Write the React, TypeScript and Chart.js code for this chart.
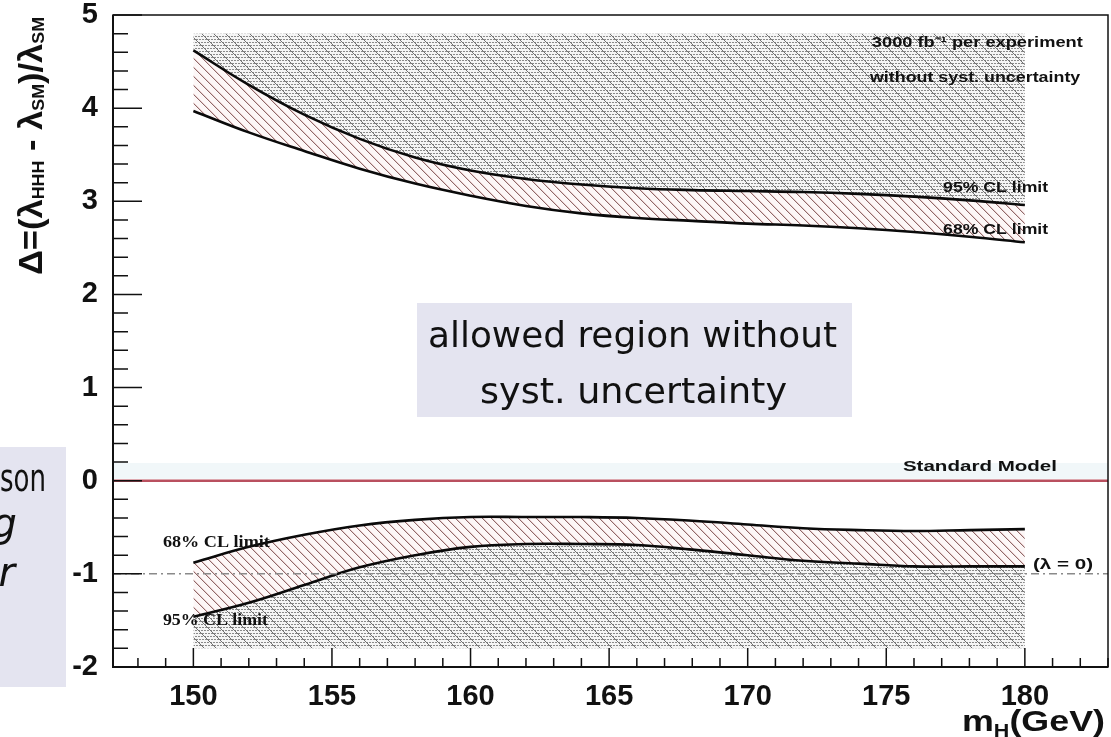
import React, { useEffect, useRef } from "react";
import { Chart, registerables } from "chart.js";

Chart.register(...registerables);

// Higgs boson mass points (GeV) where the coupling limits are evaluated
const MH = [150, 152, 154, 156, 158, 160, 162, 164, 166, 168, 170, 172, 174, 176, 178, 180];

// Upper limits on Δ = (λHHH - λSM)/λSM
const CL95_UP = [4.62, 4.25, 3.93, 3.67, 3.47, 3.33, 3.24, 3.18, 3.14, 3.12, 3.11, 3.1, 3.08, 3.05, 3.01, 2.96];
const CL68_UP = [3.97, 3.74, 3.54, 3.35, 3.19, 3.06, 2.95, 2.87, 2.82, 2.79, 2.76, 2.74, 2.71, 2.67, 2.62, 2.56];

// Lower limits on Δ
const CL68_LO = [-0.88, -0.71, -0.58, -0.48, -0.42, -0.39, -0.39, -0.39, -0.4, -0.43, -0.47, -0.51, -0.53, -0.54, -0.53, -0.52];
const CL95_LO = [-1.46, -1.31, -1.12, -0.93, -0.8, -0.71, -0.68, -0.68, -0.69, -0.74, -0.8, -0.86, -0.89, -0.92, -0.92, -0.92];

// Edges of the excluded (shaded) regions
const EXCLUDED_TOP = 4.8;
const EXCLUDED_BOTTOM = -1.8;

// Reference lines
const STANDARD_MODEL = 0;
const ZERO_COUPLING = -1;

// Axes
const X_RANGE = [147.1, 183];
const Y_RANGE = [-2, 5];
const X_TICKS = [150, 155, 160, 165, 170, 175, 180];
const Y_TICKS = [-2, -1, 0, 1, 2, 3, 4, 5];
const X_MINOR_STEP = 1;
const Y_MINOR_STEP = 0.2;

// In-plot labels, placed in data units (left edge, right edge, vertical centre)
const PLOT_NOTES = [
  { text: "3000 fb\u207B\u00B9 per experiment", from: 174.48, to: 182.09, at: 4.7, serif: false },
  { text: "without syst. uncertainty", from: 174.41, to: 182.0, at: 4.32, serif: false },
  { text: "95% CL limit", from: 177.05, to: 180.84, at: 3.14, serif: false },
  { text: "68% CL limit", from: 177.05, to: 180.84, at: 2.69, serif: false },
  { text: "Standard Model", from: 175.6, to: 181.16, at: 0.15, serif: false },
  { text: "(\u03BB = 0)", from: 180.29, to: 182.46, at: -0.9, serif: false },
  { text: "68% CL limit", from: 148.9, to: 152.76, at: -0.67, serif: true },
  { text: "95% CL limit", from: 148.9, to: 152.69, at: -1.5, serif: true },
];

const CALLOUT_LINES = ["allowed region without", "syst. uncertainty"];
const SIDE_FRAGMENTS = ["son", "g", "r"];

function greyPattern(): CanvasPattern | string {
  const n = 12;
  const c = document.createElement("canvas");
  c.width = n;
  c.height = n;
  const g = c.getContext("2d");
  if (!g) return "#c8c8c8";
  g.fillStyle = "#f5f5f5";
  g.fillRect(0, 0, n, n);
  g.fillStyle = "#8a8a8a";
  for (const row of [0, 3, 6, 9]) {
    for (let x = 0; x < n; x += 3) g.fillRect(x + (row % 2), row, 2, 1);
  }
  g.fillStyle = "#707070";
  for (let i = 0; i < n; i++) g.fillRect(i, i, 1, 1);
  return g.createPattern(c, "repeat") || "#c8c8c8";
}

function redHatch(): CanvasPattern | string {
  const n = 9;
  const c = document.createElement("canvas");
  c.width = n;
  c.height = n;
  const g = c.getContext("2d");
  if (!g) return "#f3dede";
  g.fillStyle = "#fdf7f7";
  g.fillRect(0, 0, n, n);
  for (let i = 0; i < n; i++) {
    g.fillStyle = "#8e6a6a";
    g.fillRect(i, i, 1, 1);
    g.fillStyle = "#e8cccc";
    g.fillRect((i + 1) % n, i, 1, 1);
  }
  return g.createPattern(c, "repeat") || "#f3dede";
}

function fitText(
  ctx: CanvasRenderingContext2D,
  text: string,
  x: number,
  y: number,
  width: number,
  font: string,
  baseline: CanvasTextBaseline = "middle",
  color = "#111"
) {
  ctx.save();
  ctx.font = font;
  ctx.textAlign = "left";
  ctx.textBaseline = baseline;
  const w = ctx.measureText(text).width || 1;
  ctx.translate(x, y);
  ctx.scale(width / w, 1);
  ctx.fillStyle = color;
  ctx.fillText(text, 0, 0);
  ctx.restore();
}

const decorPlugin = {
  id: "decor",
  beforeDatasetsDraw(chart: any) {
    const { ctx, chartArea } = chart;
    const ys = chart.scales.y;
    // pale band just above the Standard Model line
    ctx.save();
    ctx.fillStyle = "#f1f7f9";
    const y0 = ys.getPixelForValue(0.19);
    const y1 = ys.getPixelForValue(0.02);
    ctx.fillRect(chartArea.left, y0, chartArea.right - chartArea.left, y1 - y0);
    ctx.restore();
  },
  afterDatasetsDraw(chart: any) {
    const { ctx, chartArea } = chart;
    const { left, right, top, bottom } = chartArea;
    const xs = chart.scales.x;
    const ys = chart.scales.y;

    ctx.save();
    // λ = 0 reference line (dash-dot)
    const yz = ys.getPixelForValue(ZERO_COUPLING);
    ctx.strokeStyle = "#8a8a8a";
    ctx.lineWidth = 1.5;
    ctx.setLineDash([8, 4, 2, 4]);
    ctx.beginPath();
    ctx.moveTo(left, yz);
    ctx.lineTo(right, yz);
    ctx.stroke();
    ctx.setLineDash([]);

    // Standard Model line
    const ysm = ys.getPixelForValue(STANDARD_MODEL);
    ctx.strokeStyle = "#b9505f";
    ctx.lineWidth = 2.5;
    ctx.beginPath();
    ctx.moveTo(left, ysm);
    ctx.lineTo(right, ysm);
    ctx.stroke();

    // frame
    ctx.strokeStyle = "#111";
    ctx.lineWidth = 1.5;
    ctx.strokeRect(left, top, right - left, bottom - top);
    ctx.lineWidth = 2;
    ctx.beginPath();
    ctx.moveTo(left, top);
    ctx.lineTo(left, bottom);
    ctx.lineTo(right, bottom);
    ctx.stroke();

    // inward ticks
    ctx.lineWidth = 1.5;
    ctx.beginPath();
    for (let m = Math.ceil(X_RANGE[0]); m <= X_RANGE[1]; m += X_MINOR_STEP) {
      const px = xs.getPixelForValue(m);
      const len = X_TICKS.includes(m) ? 19 : 9;
      ctx.moveTo(px, bottom);
      ctx.lineTo(px, bottom - len);
    }
    const nMinor = Math.round((Y_RANGE[1] - Y_RANGE[0]) / Y_MINOR_STEP);
    for (let k = 0; k <= nMinor; k++) {
      const v = Y_RANGE[0] + k * Y_MINOR_STEP;
      const py = ys.getPixelForValue(v);
      const major = Y_TICKS.some((t) => Math.abs(t - v) < 1e-6);
      ctx.moveTo(left, py);
      ctx.lineTo(left + (major ? 29 : 15), py);
    }
    ctx.stroke();
    ctx.restore();

    // labels inside the plot
    for (const n of PLOT_NOTES) {
      const x0 = xs.getPixelForValue(n.from);
      const x1 = xs.getPixelForValue(n.to);
      const y = ys.getPixelForValue(n.at);
      const font = n.serif ? "bold 16px 'Liberation Serif'" : "bold 15px 'Liberation Sans'";
      fitText(ctx, n.text, x0, y, x1 - x0, font);
    }
  },
  afterDraw(chart: any) {
    const { ctx } = chart;

    // y-axis title with subscripts, rotated
    const main = "bold 33px 'Liberation Sans'";
    const sub = "bold 17px 'Liberation Sans'";
    const parts: [string, boolean][] = [
      ["\u0394=(\u03BB", false],
      ["HHH", true],
      [" - \u03BB", false],
      ["SM", true],
      [")/\u03BB", false],
      ["SM", true],
    ];
    ctx.save();
    let total = 0;
    for (const [t, s] of parts) {
      ctx.font = s ? sub : main;
      total += ctx.measureText(t).width;
    }
    ctx.translate(42, 275);
    ctx.rotate(-Math.PI / 2);
    ctx.scale(258 / total, 1);
    ctx.fillStyle = "#111";
    ctx.textBaseline = "alphabetic";
    let cx = 0;
    for (const [t, s] of parts) {
      ctx.font = s ? sub : main;
      ctx.fillText(t, cx, s ? 2 : 0);
      cx += ctx.measureText(t).width;
    }
    ctx.restore();

    // x-axis title
    ctx.save();
    const xparts: [string, boolean][] = [
      ["m", false],
      ["H", true],
      ["(GeV)", false],
    ];
    const xmain = "bold 30px 'Liberation Sans'";
    const xsub = "bold 18px 'Liberation Sans'";
    let xt = 0;
    for (const [t, s] of xparts) {
      ctx.font = s ? xsub : xmain;
      xt += ctx.measureText(t).width;
    }
    ctx.translate(962, 731);
    ctx.scale(143 / xt, 1);
    ctx.fillStyle = "#111";
    ctx.textBaseline = "alphabetic";
    let xx = 0;
    for (const [t, s] of xparts) {
      ctx.font = s ? xsub : xmain;
      ctx.fillText(t, xx, s ? 6 : 0);
      xx += ctx.measureText(t).width;
    }
    ctx.restore();

    // callout box in the allowed region
    ctx.save();
    ctx.fillStyle = "#e4e4f0";
    ctx.fillRect(417, 303, 435, 114);
    ctx.restore();
    fitText(ctx, CALLOUT_LINES[0], 428, 347, 409, "35px 'DejaVu Sans'", "alphabetic");
    fitText(ctx, CALLOUT_LINES[1], 480, 403, 307, "35px 'DejaVu Sans'", "alphabetic");

    // side box at the left edge of the page
    ctx.save();
    ctx.fillStyle = "#e4e4f0";
    ctx.fillRect(0, 447, 66, 240);
    ctx.restore();
    fitText(ctx, SIDE_FRAGMENTS[0], 0, 491, 46, "38px 'DejaVu Sans'", "alphabetic");
    ctx.save();
    ctx.fillStyle = "#111";
    ctx.textAlign = "right";
    ctx.textBaseline = "alphabetic";
    ctx.font = "italic 40px 'DejaVu Sans'";
    ctx.fillText(SIDE_FRAGMENTS[1], 17, 537);
    ctx.fillText(SIDE_FRAGMENTS[2], 15, 586);
    ctx.restore();
  },
};

export default function App() {
  const ref = useRef<HTMLCanvasElement | null>(null);

  useEffect(() => {
    if (!ref.current) return;
    const grey = greyPattern();
    const red = redHatch();
    const series = (vals: number[]) => MH.map((m, i) => ({ x: m, y: vals[i] }));
    const lineStyle = {
      borderColor: "#0a0a0a",
      borderWidth: 2.6,
      pointRadius: 0,
      tension: 0.4,
    };

    const chart = new Chart(ref.current, {
      type: "line",
      data: {
        datasets: [
          { label: "95% CL upper", data: series(CL95_UP), backgroundColor: grey, fill: { value: EXCLUDED_TOP }, ...lineStyle },
          { label: "68% CL upper", data: series(CL68_UP), backgroundColor: red, fill: "-1", ...lineStyle },
          { label: "95% CL lower", data: series(CL95_LO), backgroundColor: grey, fill: { value: EXCLUDED_BOTTOM }, ...lineStyle },
          { label: "68% CL lower", data: series(CL68_LO), backgroundColor: red, fill: "-1", ...lineStyle },
        ],
      },
      options: {
        animation: false,
        responsive: false,
        maintainAspectRatio: false,
        events: [],
        layout: { padding: { top: 15, right: 3, left: 0, bottom: 0 } },
        plugins: {
          legend: { display: false },
          tooltip: { enabled: false },
          filler: { drawTime: "beforeDatasetsDraw", propagate: false },
        } as any,
        scales: {
          x: {
            type: "linear",
            min: X_RANGE[0],
            max: X_RANGE[1],
            grid: { display: false },
            border: { display: false },
            ticks: {
              color: "#111",
              padding: 5,
              maxRotation: 0,
              autoSkip: false,
              font: { family: "'Liberation Sans'", weight: "bold", size: 29 },
            },
            afterBuildTicks: (s: any) => {
              s.ticks = X_TICKS.map((v) => ({ value: v }));
            },
            afterFit: (s: any) => {
              s.height = 70;
              s.paddingLeft = 0;
              s.paddingRight = 0;
            },
          },
          y: {
            type: "linear",
            min: Y_RANGE[0],
            max: Y_RANGE[1],
            grid: { display: false },
            border: { display: false },
            ticks: {
              color: "#111",
              padding: 7,
              autoSkip: false,
              font: { family: "'Liberation Sans'", weight: "bold", size: 29, lineHeight: 1 },
            },
            afterBuildTicks: (s: any) => {
              s.ticks = Y_TICKS.map((v) => ({ value: v }));
            },
            afterFit: (s: any) => {
              s.width = 113;
              s.paddingTop = 0;
              s.paddingBottom = 0;
            },
          },
        },
      } as any,
      plugins: [decorPlugin],
    });
    return () => chart.destroy();
  }, []);

  return (
    <div style={{ position: "fixed", left: 0, top: 0, width: 1111, height: 737, background: "#fff" }}>
      <canvas ref={ref} width={1111} height={737} style={{ width: 1111, height: 737, display: "block" }} />
    </div>
  );
}
